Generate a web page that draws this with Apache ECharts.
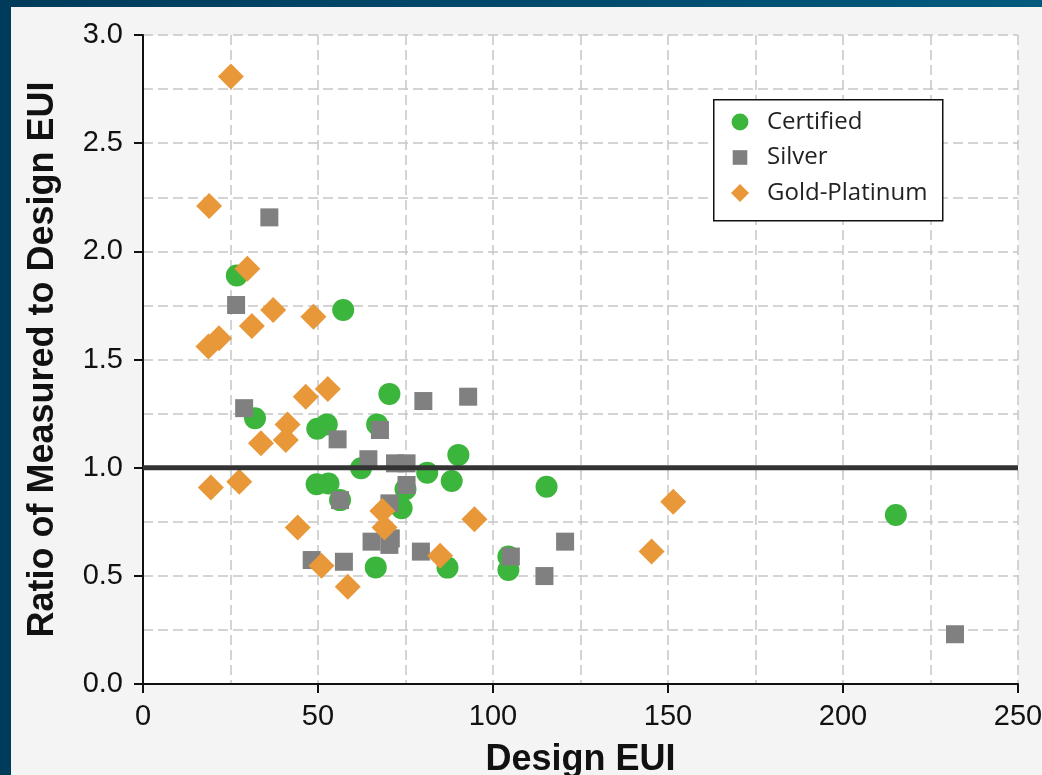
<!DOCTYPE html>
<html>
<head>
<meta charset="utf-8">
<script src="https://cdn.jsdelivr.net/npm/echarts@6/dist/echarts.min.js"></script>
<style>
  html, body { margin: 0; padding: 0; width: 1042px; height: 775px; overflow: hidden;
    background: linear-gradient(90deg, #003b5b 0%, #00496c 50%, #005b7d 100%); }
  #chart { position: absolute; left: 11px; top: 7px; width: 1031px; height: 768px; background: #f4f4f4; }
</style>
</head>
<body>
<div id="chart"></div>
<script>
// ---- data (Design EUI, ratio of measured to design EUI) ----
const seriesNames = ['Certified', 'Silver', 'Gold-Platinum'];
const certified = [
  [26.8, 1.888], [57.2, 1.729], [32.0, 1.228], [49.8, 1.18], [52.5, 1.20],
  [70.4, 1.341], [66.9, 1.20], [62.3, 0.997], [81.2, 0.977], [90.1, 1.059],
  [88.2, 0.938], [49.6, 0.923], [53.0, 0.927], [56.3, 0.85], [75.0, 0.90],
  [73.9, 0.812], [66.5, 0.539], [87.0, 0.538], [115.3, 0.912], [104.4, 0.589],
  [104.4, 0.527], [215.1, 0.781]
];
const silver = [
  [36.1, 2.157], [26.6, 1.752], [28.9, 1.275], [80.1, 1.308], [92.9, 1.328],
  [55.6, 1.131], [67.7, 1.174], [64.4, 1.039], [72.0, 1.02], [75.3, 1.02],
  [56.3, 0.85], [75.3, 0.92], [70.4, 0.835], [65.3, 0.658], [70.8, 0.673],
  [70.4, 0.643], [79.4, 0.612], [48.2, 0.573], [57.4, 0.565], [120.6, 0.658],
  [105.1, 0.589], [114.7, 0.499], [232.0, 0.23]
];
const goldPlatinum = [
  [25.1, 2.808], [18.9, 2.21], [29.8, 1.92], [37.2, 1.729], [31.1, 1.655],
  [48.7, 1.698], [21.7, 1.598], [18.7, 1.56], [46.5, 1.328], [52.8, 1.364],
  [41.3, 1.20], [33.7, 1.113], [40.8, 1.128], [19.4, 0.908], [27.5, 0.935],
  [68.4, 0.80], [69.0, 0.723], [44.2, 0.723], [94.7, 0.761], [51.0, 0.547],
  [58.5, 0.45], [84.9, 0.593], [151.5, 0.843], [145.3, 0.612]
];
const refLineX = [0, 250];
const refLineY = 1.0;
const xTicks = { min: 0, max: 250, step: 50 };
const yTicks = { min: 0, max: 3, step: 0.5 };
const xTitle = 'Design EUI';
const yTitle = 'Ratio of Measured to Design EUI';

// ---- chart ----
const chart = echarts.init(document.getElementById('chart'), null, { renderer: 'canvas' });
const labelFont = "'Liberation Sans Narrow', 'Arial Narrow', 'Liberation Sans', Arial, sans-serif";
const titleFont = "'Liberation Sans', Arial, sans-serif";
const gridDash = { color: '#c6c6c6', width: 1.5, type: [10, 5] };

const option = {
  animation: false,
  graphic: [{
    type: 'rect', left: 702, top: 92, z: 3,
    shape: { width: 229, height: 121 },
    style: { fill: '#ffffff', stroke: '#111111', lineWidth: 1.5 }
  }],
  grid: { left: 132, top: 28, width: 875, height: 649, backgroundColor: '#ffffff', show: true,
    borderWidth: 0, containLabel: false, outerBoundsMode: 'none' },
  legend: {
    data: [
      { name: seriesNames[0], icon: 'path://M0,0M0.5,8a7.5,7.5 0 1,0 15,0a7.5,7.5 0 1,0 -15,0zM16,16' },
      { name: seriesNames[1], icon: 'path://M0,0M1.5,1.5h13v13h-13zM16,16' },
      { name: seriesNames[2], icon: 'path://M0,0M8,-1.5L17.5,8L8,17.5L-1.5,8zM16,16' }
    ],
    orient: 'vertical',
    left: 720, top: 103,
    padding: 0,
    itemWidth: 18, itemHeight: 18,
    itemGap: 11.5,
    z: 10,
    textStyle: { fontFamily: "'Open Sans', 'Noto Sans', sans-serif", fontSize: 24, color: '#222',
      padding: [0, 0, 0, 13] }
  },
  xAxis: {
    type: 'value', min: xTicks.min, max: xTicks.max, interval: xTicks.step,
    name: xTitle, nameLocation: 'middle', nameGap: 58,
    nameTextStyle: { fontFamily: titleFont, fontWeight: 'bold', fontSize: 36, color: '#111' },
    axisLine: { show: true, onZero: false, lineStyle: { color: '#111', width: 2 } },
    axisTick: { show: true, length: 9, lineStyle: { color: '#111', width: 2 } },
    axisLabel: { fontFamily: labelFont, fontSize: 29, color: '#111', margin: 18 },
    splitLine: { show: true, lineStyle: gridDash },
    minorTick: { show: false, splitNumber: 2 },
    minorSplitLine: { show: true, lineStyle: gridDash }
  },
  yAxis: {
    type: 'value', min: yTicks.min, max: yTicks.max, interval: yTicks.step,
    name: yTitle, nameLocation: 'middle', nameGap: 82,
    nameTextStyle: { fontFamily: titleFont, fontWeight: 'bold', fontSize: 36, color: '#111' },
    axisLine: { show: true, onZero: false, lineStyle: { color: '#111', width: 2 } },
    axisTick: { show: true, length: 9, lineStyle: { color: '#111', width: 2 } },
    axisLabel: { fontFamily: labelFont, fontSize: 29, color: '#111', margin: 20,
      formatter: v => v.toFixed(1) },
    splitLine: { show: true, lineStyle: gridDash },
    minorTick: { show: false, splitNumber: 2 },
    minorSplitLine: { show: true, lineStyle: gridDash }
  },
  series: [
    {
      name: seriesNames[0], type: 'scatter', data: certified,
      symbol: 'circle', symbolSize: 22,
      itemStyle: { color: '#3cb53c', opacity: 1 }
    },
    {
      name: 'ref', type: 'line', data: refLineX.map(x => [x, refLineY]),
      symbol: 'none', silent: true,
      lineStyle: { color: '#333333', width: 5 }
    },
    {
      name: seriesNames[1], type: 'scatter', data: silver,
      symbol: 'rect', symbolSize: 18,
      itemStyle: { color: '#808080', opacity: 1 }
    },
    {
      name: seriesNames[2], type: 'scatter', data: goldPlatinum,
      symbol: 'diamond', symbolSize: 26,
      itemStyle: { color: '#e89838', opacity: 1 }
    }
  ]
};
chart.setOption(option);
</script>
</body>
</html>
